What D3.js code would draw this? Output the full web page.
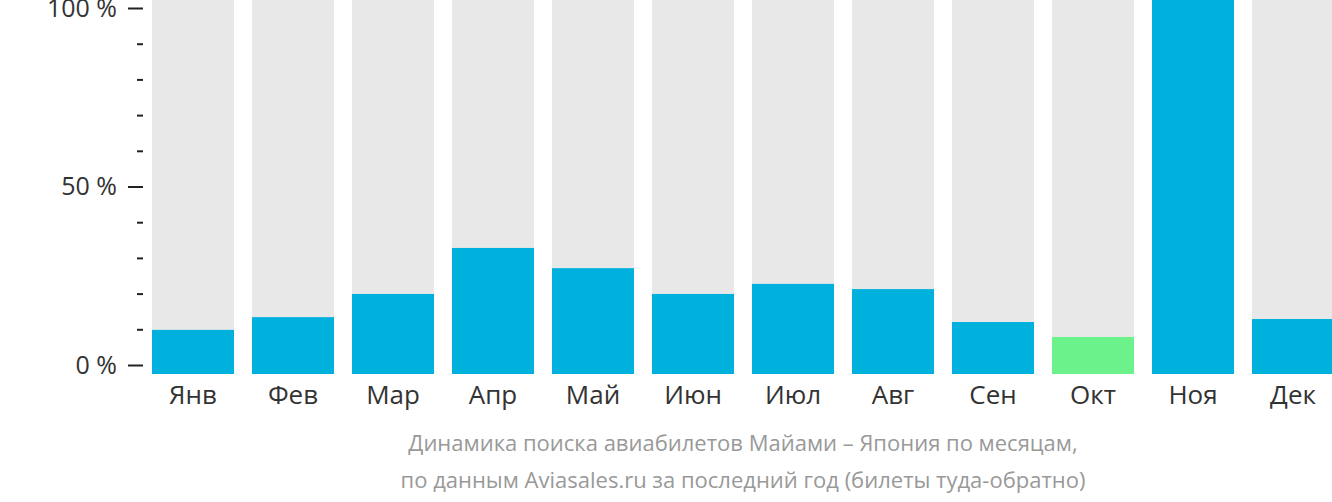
<!DOCTYPE html>
<html><head><meta charset="utf-8">
<script src="https://cdn.jsdelivr.net/npm/d3@7"></script>
<style>
html,body{margin:0;padding:0;background:#fff;}
svg{display:block;font-family:"Open Sans",sans-serif;}
</style></head>
<body>
<script>
const months = ["Янв","Фев","Мар","Апр","Май","Июн","Июл","Авг","Сен","Окт","Ноя","Дек"];
const values = [11.8,15.2,21.4,33.7,28.3,21.4,24.1,22.7,13.9,9.9,100,14.7];
const highlight = ["Окт"];
const majorTicks = [0,50,100];
const minorTicks = [10,20,30,40,60,70,80,90];
const titleLines = ["Динамика поиска авиабилетов Майами – Япония по месяцам,",
                    "по данным Aviasales.ru за последний год (билеты туда-обратно)"];

const W = 1332, H = 502;
const svg = d3.select("body").append("svg").attr("width", W).attr("height", H);

const x = d3.scaleBand().domain(months).range([143, 1343]).paddingInner(0.18).paddingOuter(0.09);
const yBar = d3.scaleLinear().domain([0,100]).range([374, 0]);
const yAxis = d3.scaleLinear().domain([0,100]).range([365, 8]);

svg.append("g").selectAll("rect").data(months).join("rect")
  .attr("x", d => x(d)).attr("width", x.bandwidth())
  .attr("y", yBar(100)).attr("height", yBar(0) - yBar(100))
  .attr("fill", "#e8e8e8");

svg.append("g").selectAll("rect").data(months).join("rect")
  .attr("x", d => x(d)).attr("width", x.bandwidth())
  .attr("y", (d,i) => yBar(values[i])).attr("height", (d,i) => yBar(0) - yBar(values[i]))
  .attr("fill", d => highlight.includes(d) ? "#6cf28a" : "#00b1dd");

const gMaj = svg.append("g").attr("transform", "translate(143,0)")
  .call(d3.axisLeft(yAxis).tickValues(majorTicks).tickSize(15).tickPadding(11).tickFormat(d => d + " %"));
gMaj.select(".domain").remove();
gMaj.selectAll(".tick line").attr("stroke", "#222").attr("stroke-width", 2);
gMaj.selectAll(".tick text").attr("fill", "#333").style("font-size", "25px").style("font-family", "'Open Sans',sans-serif");

const gMin = svg.append("g").attr("transform", "translate(143,0)")
  .call(d3.axisLeft(yAxis).tickValues(minorTicks).tickSize(6).tickFormat(""));
gMin.select(".domain").remove();
gMin.selectAll(".tick line").attr("stroke", "#222").attr("stroke-width", 2);

const gX = svg.append("g").attr("transform", "translate(0,374)")
  .call(d3.axisBottom(x).tickSize(0).tickPadding(12));
gX.select(".domain").remove();
gX.selectAll(".tick text").attr("fill", "#333").style("font-size", "26px").style("font-family", "'Open Sans',sans-serif");

svg.append("g").selectAll("text").data(titleLines).join("text")
  .attr("x", 743).attr("y", (d,i) => 451 + i*37)
  .attr("text-anchor", "middle").attr("fill", "#999")
  .style("font-size", "22px")
  .text(d => d);
</script>
</body></html>
